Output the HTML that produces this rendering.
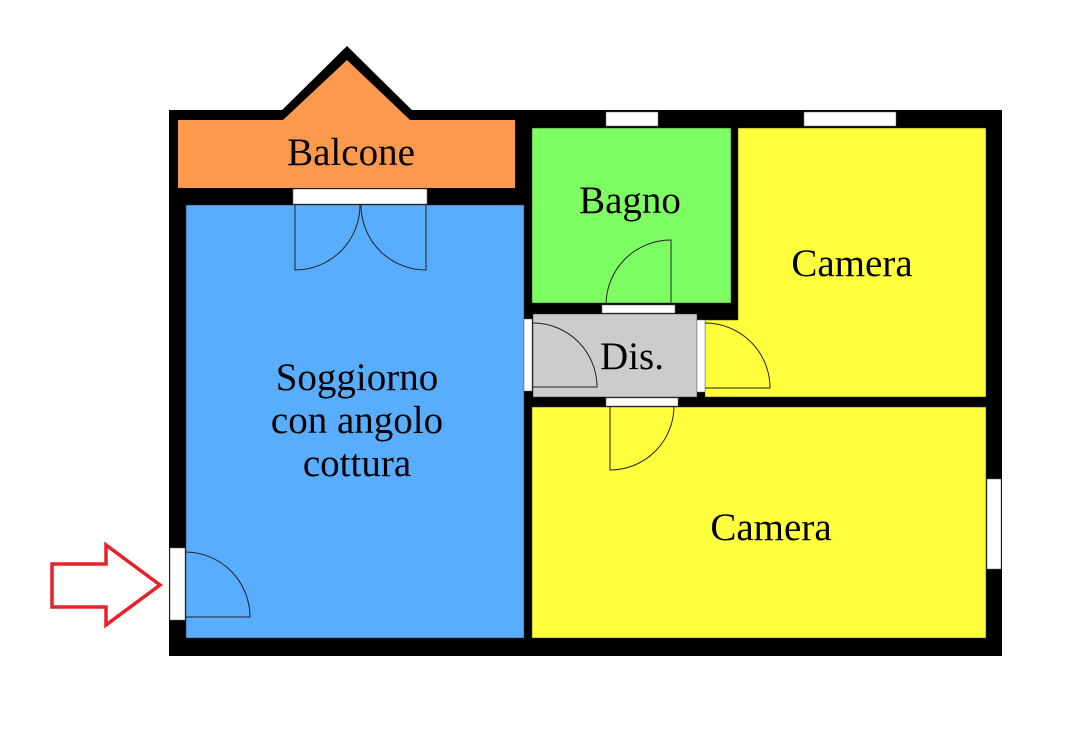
<!DOCTYPE html>
<html><head><meta charset="utf-8"><style>
html,body{margin:0;padding:0;background:#fff;}
svg{display:block;}
</style></head><body>
<svg width="1082" height="729" viewBox="0 0 1082 729">
<rect x="169" y="110" width="833" height="546" fill="#000"/>
<polygon points="276,116 347,46 418,116" fill="#000"/>
<polygon points="178,120 283,120 347,60 410,120 515,120 515,188 178,188" fill="#fd994d"/>
<rect x="186" y="205" width="338" height="433" fill="#58adff" stroke="#333" stroke-width="0.5"/>
<rect x="532" y="128" width="199" height="175" fill="#7dff63" stroke="#333" stroke-width="0.5"/>
<polygon points="738,128 986,128 986,397 705,397 705,320 738,320" fill="#ffff3e" stroke="#333" stroke-width="0.5"/>
<rect x="533" y="314" width="164" height="83" fill="#cccccc" stroke="#333" stroke-width="0.5"/>
<rect x="532" y="407" width="454" height="231" fill="#ffff3e" stroke="#333" stroke-width="0.5"/>
<g fill="#fff" stroke="#666" stroke-width="0.5">
<rect x="293" y="189" width="134" height="15"/>
<rect x="606" y="112" width="52" height="14"/>
<rect x="804" y="112" width="92" height="14"/>
<rect x="602" y="305" width="73" height="8"/>
<rect x="524" y="319" width="8" height="72"/>
<rect x="697" y="320" width="8" height="72"/>
<rect x="606" y="398" width="72" height="8"/>
<rect x="987" y="479" width="14" height="90"/>
<rect x="170" y="548" width="15" height="72"/>
</g>
<g fill="none" stroke="#222" stroke-width="1">
<path d="M295,205 V270 A65,65 0 0 0 360,205"/>
<path d="M426,205 V270 A65,65 0 0 1 361,205"/>
<path d="M671,305 V240 A65,65 0 0 0 606,305"/>
<path d="M533,387 H597 A64,64 0 0 0 533,323"/>
<path d="M705,388 H770 A65,65 0 0 0 705,323"/>
<path d="M610,406 V470 A64,64 0 0 0 674,406"/>
<path d="M186,617 H250 A65,65 0 0 0 186,552"/>
</g>
<polygon points="52,564 106,564 106,545 160,585 106,625 106,607 52,607" fill="#fff" stroke="#e8202a" stroke-width="3.5"/>
<g font-family="Liberation Serif, Times New Roman, serif" font-size="39" text-anchor="middle" fill="#000">
<text x="351" y="165">Balcone</text>
<text x="630" y="213">Bagno</text>
<text x="852" y="276">Camera</text>
<text x="357" y="390">Soggiorno</text>
<text x="357" y="433">con angolo</text>
<text x="357" y="476">cottura</text>
<text x="632" y="369">Dis.</text>
<text x="771" y="540">Camera</text>
</g>
</svg>
</body></html>
